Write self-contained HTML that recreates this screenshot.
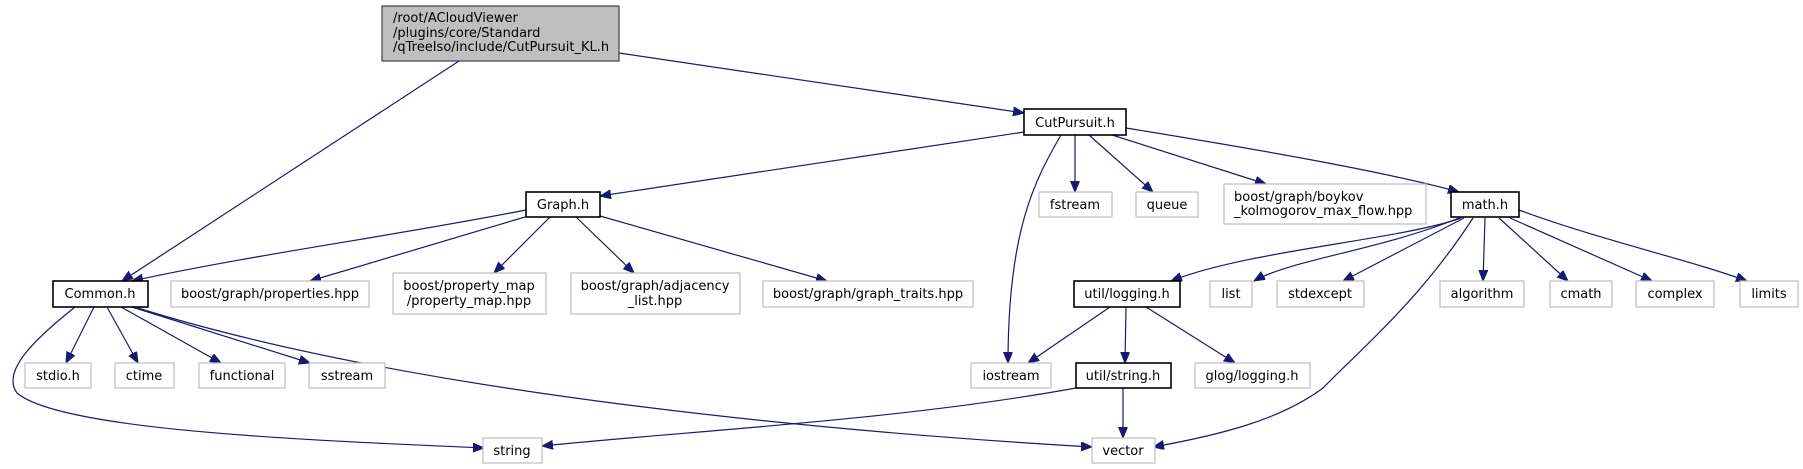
<!DOCTYPE html>
<html><head><meta charset="utf-8"><style>
html,body{margin:0;padding:0;background:#fff;}
svg{display:block;}
text{font-family:"DejaVu Sans","Liberation Sans",sans-serif;font-size:13px;fill:#000;}
.e{fill:none;stroke:#191970;stroke-width:1.2;marker-end:url(#a);}
.b{fill:#fff;stroke:#000;stroke-width:1.6;}
.g{fill:#fff;stroke:#bfbfbf;stroke-width:1.2;}
</style></head><body>
<svg width="1803" height="469" viewBox="0 0 1803 469" xmlns="http://www.w3.org/2000/svg">
<defs><marker id="a" markerUnits="userSpaceOnUse" markerWidth="12" markerHeight="10" refX="11" refY="4.5" orient="auto"><path d="M0,0 L11,4.5 L0,9 z" fill="#191970" stroke="#191970"/></marker></defs>

<!-- edges -->
<path class="e" d="M459,61 L122,281"/>
<path class="e" d="M619,53 L1024,113"/>
<path class="e" d="M1024,132 L600,196"/>
<path class="e" d="M1061,135 C1035,180 1008,230 1008,363"/>
<path class="e" d="M1075,135 L1075,192"/>
<path class="e" d="M1089,135 L1153,192"/>
<path class="e" d="M1112,135 L1266,184"/>
<path class="e" d="M1126,128 C1230,145 1380,170 1459,192"/>
<path class="e" d="M526,210 C400,235 250,255 132,281"/>
<path class="e" d="M525,217 L310,281"/>
<path class="e" d="M550,217 L494,273"/>
<path class="e" d="M576,217 L634,273"/>
<path class="e" d="M600,216 L827,281"/>
<path class="e" d="M94,307 L66,363"/>
<path class="e" d="M107,307 L138,363"/>
<path class="e" d="M121,307 L221,363"/>
<path class="e" d="M132,307 L310,363"/>
<path class="e" d="M75,307 C40,335 0,370 17,393 C60,430 300,440 484,448"/>
<path class="e" d="M138,308 C400,390 800,430 1092,447"/>
<path class="e" d="M1076,388 C900,420 700,430 542,446"/>
<path class="e" d="M1123,388 L1123,438"/>
<path class="e" d="M1461,218 C1400,240 1250,250 1171,281"/>
<path class="e" d="M1459,218 C1380,250 1290,260 1254,281"/>
<path class="e" d="M1464,218 L1343,281"/>
<path class="e" d="M1473,218 C1420,300 1360,350 1323,388 C1280,420 1220,435 1153,447"/>
<path class="e" d="M1485,218 L1483,281"/>
<path class="e" d="M1499,218 L1568,281"/>
<path class="e" d="M1510,218 L1652,281"/>
<path class="e" d="M1519,210 C1600,240 1690,260 1747,281"/>
<path class="e" d="M1110,307 L1028,363"/>
<path class="e" d="M1126,307 L1125,363"/>
<path class="e" d="M1146,307 L1235,363"/>

<!-- nodes -->
<rect x="382" y="6" width="237" height="55" fill="#bfbfbf" stroke="#404040" stroke-width="1.2"/>
<text x="393" y="22">/root/ACloudViewer</text>
<text x="393" y="37">/plugins/core/Standard</text>
<text x="393" y="51">/qTreeIso/include/CutPursuit_KL.h</text>

<rect class="b" x="1024" y="109" width="102" height="26"/><text x="1075" y="127" text-anchor="middle">CutPursuit.h</text>
<rect class="b" x="526" y="192" width="74" height="25"/><text x="563" y="209" text-anchor="middle">Graph.h</text>
<rect class="g" x="1039" y="192" width="73" height="25"/><text x="1075" y="209" text-anchor="middle">fstream</text>
<rect class="g" x="1136" y="192" width="62" height="25"/><text x="1167" y="209" text-anchor="middle">queue</text>
<rect class="g" x="1224" y="184" width="202" height="40"/>
<text x="1234" y="201">boost/graph/boykov</text>
<text x="1234" y="215">_kolmogorov_max_flow.hpp</text>
<rect class="b" x="1451" y="192" width="68" height="25"/><text x="1485" y="209" text-anchor="middle">math.h</text>

<rect class="b" x="53" y="281" width="95" height="26"/><text x="100" y="298" text-anchor="middle">Common.h</text>
<rect class="g" x="171" y="281" width="198" height="26"/><text x="270" y="298" text-anchor="middle">boost/graph/properties.hpp</text>
<rect class="g" x="393" y="273" width="153" height="41"/>
<text x="469" y="290" text-anchor="middle">boost/property_map</text>
<text x="469" y="305" text-anchor="middle">/property_map.hpp</text>
<rect class="g" x="571" y="273" width="169" height="41"/>
<text x="655" y="290" text-anchor="middle">boost/graph/adjacency</text>
<text x="655" y="305" text-anchor="middle">_list.hpp</text>
<rect class="g" x="763" y="281" width="210" height="26"/><text x="868" y="298" text-anchor="middle">boost/graph/graph_traits.hpp</text>
<rect class="b" x="1074" y="281" width="106" height="26"/><text x="1127" y="298" text-anchor="middle">util/logging.h</text>
<rect class="g" x="1210" y="281" width="42" height="26"/><text x="1231" y="298" text-anchor="middle">list</text>
<rect class="g" x="1277" y="281" width="87" height="26"/><text x="1320" y="298" text-anchor="middle">stdexcept</text>
<rect class="g" x="1440" y="281" width="84" height="26"/><text x="1482" y="298" text-anchor="middle">algorithm</text>
<rect class="g" x="1550" y="281" width="62" height="26"/><text x="1581" y="298" text-anchor="middle">cmath</text>
<rect class="g" x="1636" y="281" width="78" height="26"/><text x="1675" y="298" text-anchor="middle">complex</text>
<rect class="g" x="1740" y="281" width="58" height="26"/><text x="1769" y="298" text-anchor="middle">limits</text>

<rect class="g" x="25" y="363" width="66" height="25"/><text x="58" y="380" text-anchor="middle">stdio.h</text>
<rect class="g" x="115" y="363" width="59" height="25"/><text x="144" y="380" text-anchor="middle">ctime</text>
<rect class="g" x="199" y="363" width="86" height="25"/><text x="242" y="380" text-anchor="middle">functional</text>
<rect class="g" x="309" y="363" width="76" height="25"/><text x="347" y="380" text-anchor="middle">sstream</text>
<rect class="g" x="971" y="363" width="80" height="25"/><text x="1011" y="380" text-anchor="middle">iostream</text>
<rect class="b" x="1076" y="363" width="95" height="25"/><text x="1123" y="380" text-anchor="middle">util/string.h</text>
<rect class="g" x="1195" y="363" width="115" height="25"/><text x="1252" y="380" text-anchor="middle">glog/logging.h</text>

<rect class="g" x="483" y="438" width="59" height="25"/><text x="512" y="455" text-anchor="middle">string</text>
<rect class="g" x="1092" y="438" width="63" height="25"/><text x="1123" y="455" text-anchor="middle">vector</text>
</svg>
</body></html>
